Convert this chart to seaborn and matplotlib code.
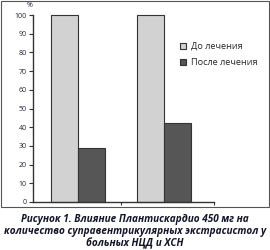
import matplotlib
matplotlib.use("Agg")
import matplotlib.pyplot as plt
import seaborn as sns
import pandas as pd
from matplotlib.patches import Rectangle

groups = ["НЦД", "ХСН"]
series = ["До лечения", "После лечения"]
before = [100, 100]
after = [29, 42]
yticks = [0, 10, 20, 30, 40, 50, 60, 70, 80, 90, 100]
caption = ("Рисунок 1. Влияние Плантискардио 450 мг на\n"
           "количество суправентрикулярных экстрасистол у\n"
           "больных НЦД и ХСН")

df = pd.DataFrame({
    "group": groups * 2,
    "series": [series[0]] * 2 + [series[1]] * 2,
    "value": before + after,
})

sns.set_theme(style="white")
plt.rcParams['font.family'] = ['Open Sans', 'DejaVu Sans']

fig = plt.figure(figsize=(2.7, 2.5), dpi=100)
ax = fig.add_axes([33/270, 1 - 202/250, (214 - 33)/270, (202 - 15)/250])

sns.barplot(data=df, x="group", y="value", hue="series", ax=ax,
            palette=["#d2d2d2", "#565656"], width=0.62, gap=0,
            edgecolor="#333333", linewidth=0.8, saturation=1, legend=True)
for p in ax.patches:
    p.set_clip_on(False)

ax.set_ylim(0, 100)
ax.set_xlim(-0.52, 1.58)
ax.set_yticks(yticks)
ax.set_yticklabels([str(v) for v in yticks], fontsize=5, color="#223")
ax.set_xticks([0.5, 1.58])
ax.set_xticklabels(["", ""])
ax.set_xlabel("")
ax.set_ylabel("")
ax.tick_params(axis="y", direction="out", length=3, width=0.8, color="#333", pad=1.5, left=True)
ax.tick_params(axis="x", direction="out", length=2.5, width=0.8, color="#333", bottom=True)
for s in ["top", "right"]:
    ax.spines[s].set_visible(False)
for s in ["left", "bottom"]:
    ax.spines[s].set_color("#333333")
    ax.spines[s].set_linewidth(1.0)

ax.text(-0.02, 1.03, "%", transform=ax.transAxes, fontsize=5, ha="center", va="bottom", color="#223")

leg = ax.legend(loc="upper left", bbox_to_anchor=(180/270, 1 - 42/250),
                bbox_transform=fig.transFigure, frameon=False, fontsize=6.6,
                handlelength=0.6, handleheight=0.6, handletextpad=0.6,
                labelspacing=0.75, borderpad=0, borderaxespad=0)
for h in leg.legend_handles:
    h.set_linewidth(0.8)

fig.add_artist(Rectangle((1/270, 1 - 207/250), 268/270, 207/250 - 0.002,
                         transform=fig.transFigure, fill=False,
                         edgecolor="#555555", linewidth=0.8))

fig.text(0.5, 1 - 214/250, caption, ha="center", va="top", fontsize=7.2,
         fontweight="bold", fontstyle="italic", color="#141428", linespacing=1.12)

fig.savefig("out.png", dpi=100)
